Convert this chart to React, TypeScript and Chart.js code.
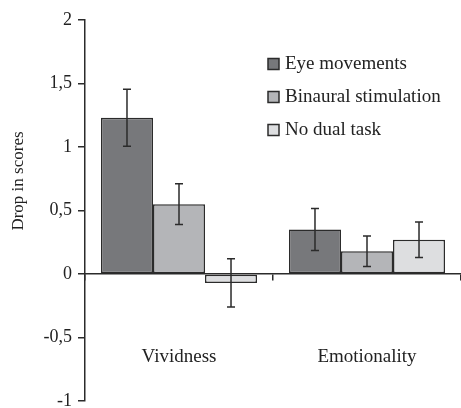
import React, { useEffect, useRef } from "react";
import { Chart, registerables } from "chart.js";

Chart.register(...registerables);

const categories = ["Vividness", "Emotionality"];
const seriesLabels = ["Eye movements", "Binaural stimulation", "No dual task"];
const eyeMovements = [1.23, 0.35];
const binauralStimulation = [0.55, 0.18];
const noDualTask = [-0.07, 0.27];
const eyeMovementsErr = [0.225, 0.165];
const binauralStimulationErr = [0.16, 0.12];
const noDualTaskErr = [0.19, 0.14];
const yTickLabels: Record<string, string> = {
  "2": "2",
  "1.5": "1,5",
  "1": "1",
  "0.5": "0,5",
  "0": "0",
  "-0.5": "-0,5",
  "-1": "-1",
};

const FONT = "'Liberation Serif', 'DejaVu Serif', serif";
const INK = "#2b2b2b";

const errorBarPlugin = {
  id: "errorBars",
  afterDatasetsDraw(chart: any) {
    const ctx = chart.ctx;
    const y = chart.scales.y;
    chart.data.datasets.forEach((ds: any, i: number) => {
      const meta = chart.getDatasetMeta(i);
      meta.data.forEach((bar: any, j: number) => {
        const v = ds.data[j];
        const e = ds.errors[j];
        const top = y.getPixelForValue(v + e);
        const bot = y.getPixelForValue(v - e);
        ctx.save();
        ctx.strokeStyle = INK;
        ctx.lineWidth = 1.5;
        ctx.beginPath();
        ctx.moveTo(bar.x, top);
        ctx.lineTo(bar.x, bot);
        ctx.moveTo(bar.x - 4, top);
        ctx.lineTo(bar.x + 4, top);
        ctx.moveTo(bar.x - 4, bot);
        ctx.lineTo(bar.x + 4, bot);
        ctx.stroke();
        ctx.restore();
      });
    });
  },
};

const decorPlugin = {
  id: "decor",
  afterDraw(chart: any) {
    const ctx = chart.ctx;
    const x = chart.scales.x;
    const y = chart.scales.y;
    ctx.save();
    ctx.fillStyle = "#222";
    ctx.textAlign = "center";
    ctx.textBaseline = "middle";
    // category labels
    ctx.font = `19px ${FONT}`;
    categories.forEach((c, i) => {
      ctx.fillText(c, x.getPixelForValue(i), y.getPixelForValue(-0.65));
    });
    // y title
    ctx.font = `17px ${FONT}`;
    ctx.save();
    ctx.translate(19, 181);
    ctx.rotate(-Math.PI / 2);
    ctx.fillText("Drop in scores", 0, 0);
    ctx.restore();
    // legend
    ctx.font = `19px ${FONT}`;
    ctx.textAlign = "left";
    const legendY = [64, 97, 130];
    chart.data.datasets.forEach((ds: any, i: number) => {
      const ly = legendY[i];
      ctx.fillStyle = ds.backgroundColor;
      ctx.fillRect(268, ly - 5.5, 11, 11);
      ctx.strokeStyle = INK;
      ctx.lineWidth = 1.5;
      ctx.strokeRect(268, ly - 5.5, 11, 11);
      ctx.fillStyle = "#222";
      ctx.fillText(ds.label, 285, ly);
    });
    ctx.restore();
  },
};

export default function App() {
  const ref = useRef<HTMLCanvasElement>(null);
  useEffect(() => {
    if (!ref.current) return;
    const chart = new Chart(ref.current, {
      type: "bar",
      data: {
        labels: categories,
        datasets: [
          { label: seriesLabels[0], data: eyeMovements, errors: eyeMovementsErr, backgroundColor: "#77787b" },
          { label: seriesLabels[1], data: binauralStimulation, errors: binauralStimulationErr, backgroundColor: "#b4b5b8" },
          { label: seriesLabels[2], data: noDualTask, errors: noDualTaskErr, backgroundColor: "#dddee0" },
        ].map((d) => ({
          ...d,
          borderColor: INK,
          borderWidth: 1.5,
          borderSkipped: false,
          categoryPercentage: 0.83,
          barPercentage: 1,
        })) as any,
      },
      options: {
        responsive: false,
        animation: false,
        layout: { padding: { top: 20, bottom: 7, left: 0, right: 0 } },
        plugins: { legend: { display: false }, tooltip: { enabled: false } },
        scales: {
          x: {
            position: { y: 0 } as any,
            grid: { offset: true, drawOnChartArea: false, tickLength: 6, color: INK, lineWidth: 1.5 },
            border: { color: INK, width: 1.5 },
            ticks: { display: false },
          },
          y: {
            min: -1,
            max: 2,
            afterFit: (s: any) => {
              s.width = 85;
              s.paddingTop = 0;
              s.paddingBottom = 0;
            },
            ticks: {
              stepSize: 0.5,
              padding: 6,
              color: "#222",
              font: { family: FONT, size: 18 },
              callback: (v: any) => yTickLabels[String(v)] ?? "",
            },
            grid: { drawOnChartArea: false, tickLength: 7, color: INK, lineWidth: 1.5 },
            border: { color: INK, width: 1.5 },
          },
        },
      },
      plugins: [errorBarPlugin, decorPlugin],
    });
    return () => chart.destroy();
  }, []);
  return (
    <div style={{ position: "absolute", left: 0, top: 0, width: 461, height: 408 }}>
      <canvas ref={ref} width={461} height={408} style={{ display: "block", background: "#fff" }} />
    </div>
  );
}
